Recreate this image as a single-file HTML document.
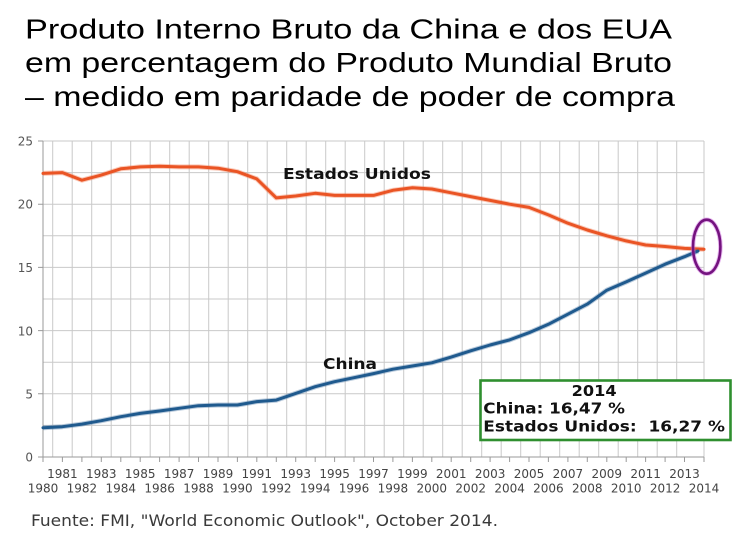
<!DOCTYPE html>
<html><head><meta charset="utf-8"><style>
html,body{margin:0;padding:0;background:#fff;}
svg{display:block;}
</style></head><body>
<svg width="745" height="537" viewBox="0 0 745 537" xmlns="http://www.w3.org/2000/svg">
<rect width="745" height="537" fill="#fff"/>
<g font-family="Liberation Sans, Arial, sans-serif" font-size="28" fill="#000">
<text x="25" y="38.5" textLength="647" lengthAdjust="spacingAndGlyphs">Produto Interno Bruto da China e dos EUA</text>
<text x="25" y="72" textLength="647" lengthAdjust="spacingAndGlyphs">em percentagem do Produto Mundial Bruto</text>
<text x="25" y="106" textLength="650" lengthAdjust="spacingAndGlyphs">– medido em paridade de poder de compra</text>
</g>
<g stroke="#c9c9c9" stroke-width="1" fill="none">
<path d="M43 141H704M43 172.6H704M43 204.2H704M43 235.8H704M43 267.4H704M43 299H704M43 330.6H704M43 362.2H704M43 393.8H704M43 425.4H704"/>
<path d="M52.7 141V457M72.2 141V457M91.7 141V457M111.2 141V457M130.7 141V457M150.2 141V457M169.7 141V457M189.2 141V457M208.7 141V457M228.2 141V457M247.7 141V457M267.2 141V457M286.7 141V457M306.2 141V457M325.7 141V457M345.2 141V457M364.7 141V457M384.2 141V457M403.7 141V457M423.2 141V457M442.7 141V457M462.2 141V457M481.7 141V457M501.2 141V457M520.7 141V457M540.2 141V457M559.7 141V457M579.2 141V457M598.7 141V457M618.2 141V457M637.7 141V457M657.2 141V457M676.7 141V457M704 141V457"/>
</g>
<g stroke="#9a9a9a" stroke-width="1" fill="none">
<path d="M43 141V457H704"/>
<path d="M38 141H43M38 204.2H43M38 267.4H43M38 330.6H43M38 393.8H43M38 457H43"/>
<path d="M43 457v5M62.4 457v5M81.9 457v5M101.3 457v5M120.8 457v5M140.2 457v5M159.6 457v5M179.1 457v5M198.5 457v5M218 457v5M237.4 457v5M256.8 457v5M276.3 457v5M295.7 457v5M315.2 457v5M334.6 457v5M354 457v5M373.5 457v5M392.9 457v5M412.4 457v5M431.8 457v5M451.2 457v5M470.7 457v5M490.1 457v5M509.6 457v5M529 457v5M548.4 457v5M567.9 457v5M587.3 457v5M606.8 457v5M626.2 457v5M645.6 457v5M665.1 457v5M684.5 457v5M704 457v5"/>
</g>
<g font-family="DejaVu Sans, sans-serif" font-size="12" fill="#555" text-anchor="end">
<text x="33" y="145.5">25</text>
<text x="33" y="208.7">20</text>
<text x="33" y="272">15</text>
<text x="33" y="335.3">10</text>
<text x="33" y="398.5">5</text>
<text x="33" y="461.5">0</text>
</g>
<g font-family="DejaVu Sans, sans-serif" font-size="12" fill="#444" text-anchor="middle">
<text x="62.4" y="478">1981</text><text x="101.3" y="478">1983</text><text x="140.2" y="478">1985</text><text x="179.1" y="478">1987</text><text x="218" y="478">1989</text><text x="256.8" y="478">1991</text><text x="295.7" y="478">1993</text><text x="334.6" y="478">1995</text><text x="373.5" y="478">1997</text><text x="412.4" y="478">1999</text><text x="451.2" y="478">2001</text><text x="490.1" y="478">2003</text><text x="529" y="478">2005</text><text x="567.9" y="478">2007</text><text x="606.8" y="478">2009</text><text x="645.6" y="478">2011</text><text x="684.5" y="478">2013</text>
<text x="43" y="492.5">1980</text><text x="81.9" y="492.5">1982</text><text x="120.8" y="492.5">1984</text><text x="159.6" y="492.5">1986</text><text x="198.5" y="492.5">1988</text><text x="237.4" y="492.5">1990</text><text x="276.3" y="492.5">1992</text><text x="315.2" y="492.5">1994</text><text x="354" y="492.5">1996</text><text x="392.9" y="492.5">1998</text><text x="431.8" y="492.5">2000</text><text x="470.7" y="492.5">2002</text><text x="509.6" y="492.5">2004</text><text x="548.4" y="492.5">2006</text><text x="587.3" y="492.5">2008</text><text x="626.2" y="492.5">2010</text><text x="665.1" y="492.5">2012</text><text x="704" y="492.5">2014</text>
</g>
<polyline fill="none" stroke="#f26a3c" stroke-opacity="0.35" stroke-width="5" stroke-linejoin="round" points="43,173.4 62.4,172.6 81.9,180.2 101.3,175.1 120.8,168.8 140.2,166.9 159.6,166.3 179.1,166.9 198.5,166.9 218,168.2 237.4,171.7 256.8,178.9 276.3,197.9 295.7,196 315.2,193.3 334.6,195.4 354,195.4 373.5,195.4 392.9,190.3 412.4,187.8 431.8,189 451.2,192.8 470.7,196.6 490.1,200.4 509.6,204.2 529,207.4 548.4,214.9 567.9,223.2 587.3,230 606.8,235.8 626.2,240.9 645.6,245 665.1,246.5 684.5,248.4 704,249.3"/>
<polyline fill="none" stroke="#ea5424" stroke-width="3" stroke-linejoin="round" stroke-linecap="round" points="43,173.4 62.4,172.6 81.9,180.2 101.3,175.1 120.8,168.8 140.2,166.9 159.6,166.3 179.1,166.9 198.5,166.9 218,168.2 237.4,171.7 256.8,178.9 276.3,197.9 295.7,196 315.2,193.3 334.6,195.4 354,195.4 373.5,195.4 392.9,190.3 412.4,187.8 431.8,189 451.2,192.8 470.7,196.6 490.1,200.4 509.6,204.2 529,207.4 548.4,214.9 567.9,223.2 587.3,230 606.8,235.8 626.2,240.9 645.6,245 665.1,246.5 684.5,248.4 704,249.3"/>
<polyline fill="none" stroke="#3a6a9a" stroke-opacity="0.35" stroke-width="5" stroke-linejoin="round" points="43,427.7 62.4,426.7 81.9,424.1 101.3,420.7 120.8,416.7 140.2,413.4 159.6,411 179.1,408.3 198.5,405.7 218,405 237.4,405 256.8,401.6 276.3,400.1 295.7,393.4 315.2,386.7 334.6,381.7 354,377.7 373.5,373.6 392.9,369.2 412.4,366 431.8,362.8 451.2,357.1 470.7,350.8 490.1,345 509.6,339.9 529,332.7 548.4,324.3 567.9,314.2 587.3,304.1 606.8,290.2 626.2,281.9 645.6,273.1 665.1,264.2 684.5,256.7 698,251"/>
<polyline fill="none" stroke="#1f5a8e" stroke-width="3" stroke-linejoin="round" stroke-linecap="round" points="43,427.7 62.4,426.7 81.9,424.1 101.3,420.7 120.8,416.7 140.2,413.4 159.6,411 179.1,408.3 198.5,405.7 218,405 237.4,405 256.8,401.6 276.3,400.1 295.7,393.4 315.2,386.7 334.6,381.7 354,377.7 373.5,373.6 392.9,369.2 412.4,366 431.8,362.8 451.2,357.1 470.7,350.8 490.1,345 509.6,339.9 529,332.7 548.4,324.3 567.9,314.2 587.3,304.1 606.8,290.2 626.2,281.9 645.6,273.1 665.1,264.2 684.5,256.7 698,251"/>
<g font-family="DejaVu Sans, sans-serif" font-weight="bold" font-size="15" fill="#111">
<text x="283" y="179" textLength="148" lengthAdjust="spacingAndGlyphs">Estados Unidos</text>
<text x="323" y="369" textLength="54" lengthAdjust="spacingAndGlyphs">China</text>
</g>
<ellipse cx="706.7" cy="246.7" rx="13.7" ry="27" fill="none" stroke="#d070e0" stroke-opacity="0.5" stroke-width="4.5"/>
<ellipse cx="706.7" cy="246.7" rx="13.7" ry="27" fill="none" stroke="#74137f" stroke-width="2.6"/>
<rect x="480.5" y="380.5" width="250" height="59.5" fill="#fff" stroke="#2f8f2f" stroke-width="2.6"/>
<g font-family="DejaVu Sans, sans-serif" font-weight="bold" font-size="15" fill="#111">
<text x="571.7" y="396" textLength="45" lengthAdjust="spacingAndGlyphs">2014</text>
<text x="483.3" y="413.5" textLength="141.7" lengthAdjust="spacingAndGlyphs">China: 16,47 %</text>
<text x="483.3" y="431.5" textLength="241.7" lengthAdjust="spacingAndGlyphs" xml:space="preserve">Estados Unidos:  16,27 %</text>
</g>
<text x="31" y="526" font-family="DejaVu Sans, sans-serif" font-size="16" fill="#3a3a3a" textLength="467" lengthAdjust="spacingAndGlyphs">Fuente: FMI, "World Economic Outlook", October 2014.</text>
</svg>
</body></html>
